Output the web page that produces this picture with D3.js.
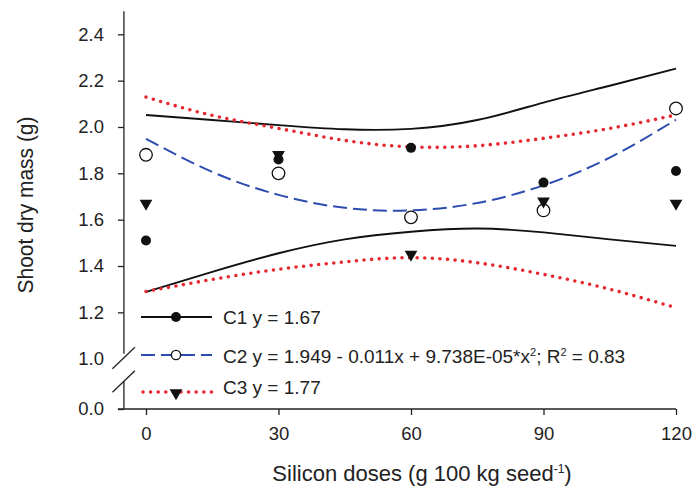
<!DOCTYPE html>
<html>
<meta charset="utf-8">
<head>
<script src="https://cdn.jsdelivr.net/npm/d3@7"></script>
<style>
body { margin: 0; background: #fff; }
svg { font-family: "Liberation Sans", Arial, sans-serif; }
.axis text { font-size: 18.5px; fill: #222; }
.axis line, .axis-line { stroke: #222; stroke-width: 1.3px; }
.title { font-size: 22px; fill: #222; }
.legend text { font-size: 19px; fill: #222; }
</style>
</head>
<body>
<svg id="chart" width="694" height="496"></svg>
<script>
// observed means per cultivar
var doses = [0, 30, 60, 90, 120];
var c1 = [1.51, 1.86, 1.91, 1.76, 1.81];
var c2 = [1.88, 1.80, 1.61, 1.64, 2.08];
var c3 = [1.67, 1.88, 1.45, 1.68, 1.67];

// fitted lines and confidence bands
var curveX  = [0, 15, 30, 45, 60, 75, 90, 105, 120];
var c1Upper = [2.052, 2.03, 2.008, 1.99, 1.992, 2.03, 2.105, 2.178, 2.252];
var c1Lower = [1.288, 1.375, 1.455, 1.515, 1.548, 1.562, 1.545, 1.515, 1.487];
var c2Fit   = [1.949, 1.806, 1.707, 1.651, 1.640, 1.672, 1.748, 1.868, 2.031];
var c3Upper = [2.129, 2.05, 1.994, 1.942, 1.914, 1.919, 1.951, 1.994, 2.052];
var c3Lower = [1.29, 1.342, 1.386, 1.418, 1.436, 1.414, 1.364, 1.30, 1.22];

var xTicks = [0, 30, 60, 90, 120];
var yTicks = [0, 1.0, 1.2, 1.4, 1.6, 1.8, 2.0, 2.2, 2.4];

const black = "#111", blue = "#2d4cb0", red = "#e8262d";

const svg = d3.select("#chart");

// x: doses; y: broken axis (0.0 squeezed below 1.0)
const x = d3.scaleLinear().domain([0, 120]).range([146, 676]);
const y = d3.scaleLinear().domain([0, 1.0, 2.4]).range([409, 358.7, 34.3]);
const axisX = x(-5);

// x axis
const gx = svg.append("g").attr("class", "axis")
    .attr("transform", `translate(0,${y(0)})`)
    .call(d3.axisBottom(x).tickValues(xTicks).tickSize(6).tickPadding(12));
gx.select(".domain").remove();
svg.append("line").attr("class", "axis-line")
    .attr("x1", axisX - 6).attr("x2", x(120))
    .attr("y1", y(0)).attr("y2", y(0));

// y axis
const gy = svg.append("g").attr("class", "axis")
    .attr("transform", `translate(${axisX},0)`)
    .call(d3.axisLeft(y).tickValues(yTicks).tickSize(6).tickPadding(14)
        .tickFormat(d3.format(".1f")));
gy.select(".domain").remove();
gy.selectAll(".tick").filter(d => d === 1.0).select("line").remove();

// y axis line in two pieces with break marks
const breakHi = y(1.0) - 1, breakLo = y(0.55);
svg.append("line").attr("class", "axis-line")
    .attr("x1", axisX).attr("x2", axisX)
    .attr("y1", y(2.5)).attr("y2", breakHi - 4);
svg.append("line").attr("class", "axis-line")
    .attr("x1", axisX).attr("x2", axisX)
    .attr("y1", breakLo).attr("y2", y(0));
[breakHi, breakLo].forEach(function(cy) {
  svg.append("line").attr("class", "axis-line")
      .attr("x1", axisX - 11.5).attr("y1", cy + 11)
      .attr("x2", axisX + 11).attr("y2", cy - 10.5);
});

// curves
const line = d3.line()
    .x((d, i) => x(curveX[i]))
    .y(d => y(d))
    .curve(d3.curveNatural);

function drawCurve(vals, color, dash, width, cap) {
  svg.append("path")
      .attr("d", line(vals))
      .attr("fill", "none")
      .attr("stroke", color)
      .attr("stroke-width", width)
      .attr("stroke-dasharray", dash)
      .attr("stroke-linecap", cap);
}
drawCurve(c1Upper, black, null, 1.9, "butt");
drawCurve(c1Lower, black, null, 1.9, "butt");
drawCurve(c2Fit, blue, "14 6", 2, "butt");
drawCurve(c3Upper, red, "0 7.6", 3.6, "round");
drawCurve(c3Lower, red, "0 7.6", 3.6, "round");

// markers
const tri = d3.symbol().type(d3.symbolTriangle).size(70);

function openCircles(g, vals) {
  g.selectAll(null).data(vals).join("circle")
      .attr("cx", (d, i) => x(doses[i])).attr("cy", d => y(d))
      .attr("r", 6.3).attr("fill", "#fff")
      .attr("stroke", black).attr("stroke-width", 1.3);
}
function triangles(g, vals) {
  g.selectAll(null).data(vals).join("path")
      .attr("d", tri)
      .attr("transform", (d, i) => `translate(${x(doses[i])},${y(d)}) rotate(180)`)
      .attr("fill", black);
}
function dots(g, vals) {
  g.selectAll(null).data(vals).join("circle")
      .attr("cx", (d, i) => x(doses[i])).attr("cy", d => y(d))
      .attr("r", 5).attr("fill", black);
}
openCircles(svg.append("g"), c2);
triangles(svg.append("g"), c3);
dots(svg.append("g"), c1);

// legend
const legend = svg.append("g").attr("class", "legend");
const lx0 = 141, lx1 = 212, lm = 176, tx = 223;

legend.append("line").attr("x1", lx0).attr("x2", lx1).attr("y1", 317).attr("y2", 317)
    .attr("stroke", black).attr("stroke-width", 1.9);
legend.append("circle").attr("cx", lm).attr("cy", 317).attr("r", 5).attr("fill", black);
legend.append("text").attr("x", tx).attr("y", 324).text("C1 y = 1.67");

legend.append("line").attr("x1", lx0).attr("x2", lx1).attr("y1", 355).attr("y2", 355)
    .attr("stroke", blue).attr("stroke-width", 2).attr("stroke-dasharray", "14 6");
legend.append("circle").attr("cx", lm).attr("cy", 355).attr("r", 4.6)
    .attr("fill", "#fff").attr("stroke", black).attr("stroke-width", 1.3);
const t2 = legend.append("text").attr("x", tx).attr("y", 363);
t2.append("tspan").text("C2 y = 1.949 - 0.011x + 9.738E-05*x");
t2.append("tspan").attr("dy", -7).style("font-size", "11px").text("2");
t2.append("tspan").attr("dy", 7).text("; R");
t2.append("tspan").attr("dy", -7).style("font-size", "11px").text("2");
t2.append("tspan").attr("dy", 7).text(" = 0.83");

legend.append("line").attr("x1", lx0 + 2).attr("x2", lx1).attr("y1", 392).attr("y2", 392)
    .attr("stroke", red).attr("stroke-width", 3.6)
    .attr("stroke-dasharray", "0 7.6").attr("stroke-linecap", "round");
legend.append("path").attr("d", tri)
    .attr("transform", `translate(${lm},393) rotate(180)`).attr("fill", black);
legend.append("text").attr("x", tx).attr("y", 394).text("C3 y = 1.77");

// titles
const xt = svg.append("text").attr("class", "title")
    .attr("x", 422).attr("y", 481).attr("text-anchor", "middle");
xt.append("tspan").text("Silicon doses (g 100 kg seed");
xt.append("tspan").attr("dy", -8).style("font-size", "12px").text("-1");
xt.append("tspan").attr("dy", 8).text(")");

svg.append("text").attr("class", "title")
    .attr("transform", "translate(33,205) rotate(-90)")
    .attr("text-anchor", "middle")
    .attr("textLength", 177).attr("lengthAdjust", "spacingAndGlyphs")
    .text("Shoot dry mass (g)");
</script>
</body>
</html>
